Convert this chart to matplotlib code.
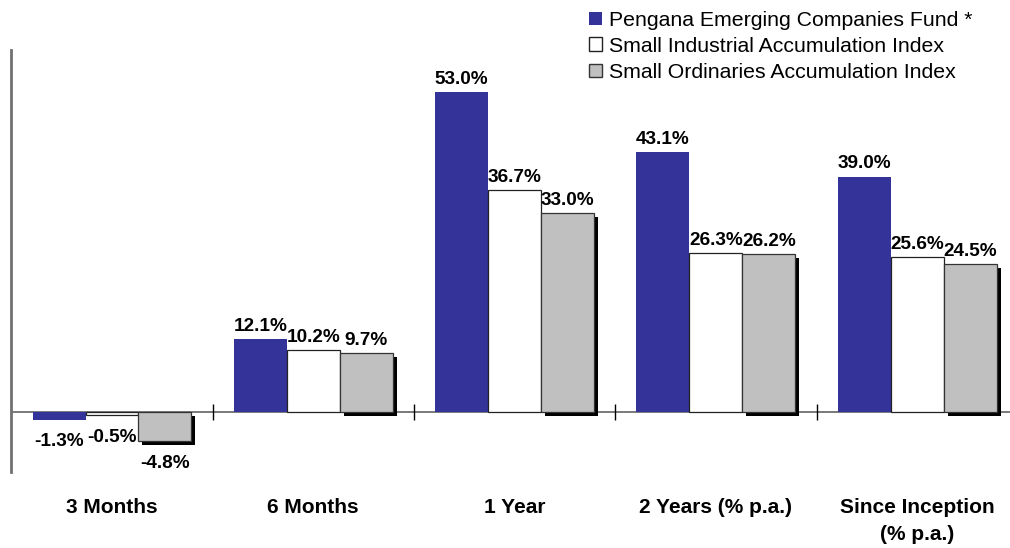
import matplotlib
matplotlib.use("Agg")
import matplotlib.pyplot as plt
import matplotlib.patheffects as pe
from matplotlib.patches import Rectangle
import numpy as np

categories = ["3 Months", "6 Months", "1 Year", "2 Years (% p.a.)", "Since Inception\n(% p.a.)"]
series_names = ["Pengana Emerging Companies Fund *",
                "Small Industrial Accumulation Index",
                "Small Ordinaries Accumulation Index"]
fund = [-1.3, 12.1, 53.0, 43.1, 39.0]
industrial = [-0.5, 10.2, 36.7, 26.3, 25.6]
ordinaries = [-4.8, 9.7, 33.0, 26.2, 24.5]

plt.rcParams['font.family'] = ['Liberation Sans', 'DejaVu Sans']

W, H = 1010, 548
fig = plt.figure(figsize=(W / 100, H / 100), dpi=100)
left_px = 11
ax = fig.add_axes([left_px / W, (H - 472) / H, (W - left_px) / W, (472 - 50) / H])

pitch = 201.3          # px per category
first_center = 112.0   # px of first category center
x = np.arange(len(categories))
bw = 0.263
styles = [
    dict(facecolor="#333399", edgecolor="#333399", linewidth=0),
    dict(facecolor="white", edgecolor="#222222", linewidth=0.9),
    dict(facecolor="#C0C0C0", edgecolor="#333333", linewidth=0.9),
]
data = [fund, industrial, ordinaries]
offsets = [-bw, 0, bw]
for i, (vals, st, off) in enumerate(zip(data, styles, offsets)):
    bars = ax.bar(x + off, vals, bw, zorder=2 + i, **st)
    if i == 2:
        for b in bars:
            b.set_path_effects([pe.SimplePatchShadow(offset=(2.8, -2.8), shadow_rgbFace="black", alpha=1.0),
                                pe.Normal()])
    for xi, v in zip(x + off, vals):
        if v >= 0:
            ax.annotate(f"{v:.1f}%", (xi, v), xytext=(0, 3), textcoords="offset points",
                        ha="center", va="bottom", fontsize=13.7, fontweight="bold", zorder=10)
        else:
            ax.annotate(f"{v:.1f}%", (xi, v), xytext=(0, -10), textcoords="offset points",
                        ha="center", va="top", fontsize=13.7, fontweight="bold", zorder=10)

ax.set_ylim(-10, 60)
x_left = -(first_center - left_px) / pitch
ax.set_xlim(x_left, x_left + (W - left_px) / pitch)
ax.axhline(0, color="#707070", lw=1.3, zorder=1)
ax.vlines(x[:-1] + 0.5, -1.4, 1.3, color="black", lw=1, zorder=1)

for s in ["top", "right", "bottom"]:
    ax.spines[s].set_visible(False)
ax.spines["left"].set_color("#707070")
ax.spines["left"].set_linewidth(2)
ax.set_yticks([])
ax.set_xticks([])

for xi, c in zip(x, categories):
    ax.text(xi, -14.25, c, ha="center", va="top", fontsize=15, fontweight="bold",
            linespacing=1.55, clip_on=False)

# legend (drawn in figure pixel coordinates)
legend_rows_y = [18, 44, 70]
leg_styles = [dict(facecolor="#333399", edgecolor="#333399", linewidth=0),
              dict(facecolor="white", edgecolor="#222222", linewidth=1.0),
              dict(facecolor="#C0C0C0", edgecolor="#333333", linewidth=1.0)]
for name, yc, st in zip(series_names, legend_rows_y, leg_styles):
    sq = 13
    fig.add_artist(Rectangle((589 / W, (H - yc - sq / 2) / H), sq / W, sq / H,
                             transform=fig.transFigure, **st))
    fig.text(609 / W, (H - yc) / H, name, ha="left", va="center_baseline", fontsize=15.3)

fig.savefig("out.png", dpi=100)
